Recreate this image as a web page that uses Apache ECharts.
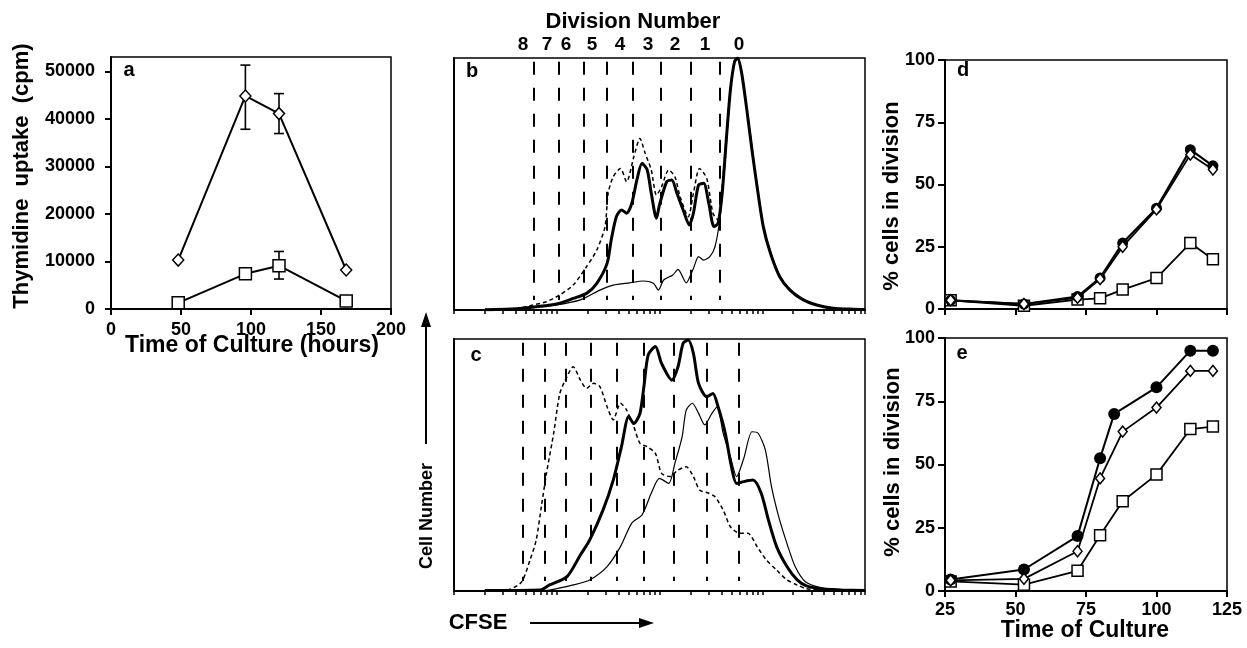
<!DOCTYPE html>
<html><head><meta charset="utf-8">
<script src="https://cdn.jsdelivr.net/npm/echarts@6/dist/echarts.min.js"></script>
<style>html,body{margin:0;padding:0;background:#fff}#c{width:1247px;height:648px}</style>
</head><body><div id="c"></div>
<script>
const FONT = '"Liberation Sans", Arial, Helvetica, sans-serif';

// ---------- panel a : thymidine uptake ----------
const aHours = [48, 96, 120, 168];
const aDiamond = [10300, 44800, 41100, 8200];
const aSquare = [1300, 7400, 9100, 1700];
const aDiamondErr = [[96, 37800, 51300], [120, 36900, 45300]];
const aSquareErr = [[120, 6300, 12100]];
const aYTicks = [0, 10000, 20000, 30000, 40000, 50000];

// ---------- panels b, c : CFSE histograms (x = log10 CFSE, y = % of max) ----------
const bThick = [[0.3,0.1],[0.61,0.5],[0.80,1.3],[1.00,2.4],[1.16,4.6],[1.29,6.6],[1.39,10.6],[1.49,18.5],[1.53,27.8],[1.58,37],[1.63,39.7],[1.68,38.4],[1.73,42.3],[1.78,51.6],[1.83,58.2],[1.88,55.6],[1.92,46.3],[1.97,36.4],[2.00,41.7],[2.07,50.9],[2.12,51.6],[2.17,46.3],[2.23,39.7],[2.29,33.7],[2.33,38.4],[2.38,49.6],[2.43,50.3],[2.48,42.3],[2.53,33.1],[2.57,34.4],[2.61,46.3],[2.65,67.5],[2.69,87.3],[2.73,98.5],[2.76,100],[2.80,93.9],[2.85,79.4],[2.90,63.5],[2.95,48.9],[3.01,33.1],[3.08,22.5],[3.17,13.2],[3.27,7.9],[3.40,4.0],[3.53,2.0],[3.69,0.7],[3.89,0.3],[4,0.2]];
const bDashed = [[0.6,0.3],[0.77,2.0],[0.90,3.3],[1.03,6.0],[1.16,9.9],[1.29,17.2],[1.39,23.8],[1.47,33.1],[1.50,46.3],[1.55,52.9],[1.62,56.2],[1.68,50.9],[1.75,60.8],[1.81,68.1],[1.86,62.2],[1.92,55.6],[1.97,45.6],[2.02,48.9],[2.09,55.6],[2.15,52.9],[2.20,45.0],[2.28,37.0],[2.33,46.3],[2.39,56.2],[2.46,52.2],[2.52,38.4],[2.57,35.7],[2.61,48.9],[2.65,68.5],[2.69,88],[2.73,99],[2.76,100],[2.80,94.5],[2.85,80.5],[2.90,64.5],[2.95,49.5],[3.01,33.5],[3.08,23],[3.17,13.5],[3.27,8.2],[3.40,4.2],[3.53,2.1],[3.69,0.8],[3.89,0.3]];
const bThin = [[0.6,0.2],[0.80,1.1],[1.00,2.0],[1.23,4.0],[1.42,7.9],[1.55,9.9],[1.71,10.8],[1.84,11.5],[1.94,10.6],[1.99,7.9],[2.04,11.9],[2.13,13.9],[2.18,16.1],[2.26,10.8],[2.33,16.5],[2.38,21.2],[2.43,19.8],[2.49,21.2],[2.54,25.1],[2.59,37.0],[2.64,59.5],[2.69,86.5],[2.73,98],[2.76,99.5],[2.80,93.5],[2.85,79],[2.90,63],[2.95,48.5],[3.01,32.8],[3.08,22.2],[3.17,13],[3.27,7.7],[3.40,3.9],[3.53,1.9],[3.69,0.6],[3.89,0.2]];

const cThick = [[0.3,0.2],[0.84,0.4],[0.93,2.4],[1.10,5.7],[1.23,14.3],[1.32,20.2],[1.45,32.1],[1.55,44.0],[1.63,57.3],[1.70,69.2],[1.75,66.5],[1.81,70.5],[1.85,81.7],[1.89,93.7],[1.96,97.0],[2.02,90.3],[2.12,83.7],[2.18,89.0],[2.23,98.3],[2.28,99.6],[2.33,94.3],[2.38,82.4],[2.46,77.1],[2.52,78.4],[2.57,73.1],[2.64,62.6],[2.70,49.3],[2.75,42.7],[2.82,43.4],[2.91,44.0],[2.99,38.8],[3.06,28.2],[3.14,17.6],[3.24,9.7],[3.34,4.4],[3.43,2.0],[3.59,0.7],[3.76,0.4],[4,0.2]];
const cThin = [[0.8,0.1],[0.93,0.4],[1.16,2.4],[1.32,4.4],[1.49,9.7],[1.62,17.6],[1.73,26.9],[1.83,30.2],[1.92,38.8],[2.00,44.7],[2.09,42.7],[2.15,50.7],[2.22,61.2],[2.26,71.8],[2.32,74.5],[2.38,70.5],[2.44,65.9],[2.51,70.5],[2.56,73.1],[2.62,62.6],[2.69,53.3],[2.75,45.4],[2.82,52.6],[2.90,63.2],[2.96,62.6],[3.03,56.0],[3.09,41.4],[3.16,29.5],[3.24,18.9],[3.32,9.7],[3.42,3.7],[3.56,1.5],[3.76,0.7],[3.95,0.3]];
const cDashed = [[0.45,0.2],[0.55,0.7],[0.66,3.7],[0.74,12.3],[0.80,20.2],[0.85,33.5],[0.90,46.7],[0.97,62.6],[1.03,78.4],[1.10,85.1],[1.16,89.0],[1.23,83.7],[1.29,80.4],[1.36,82.4],[1.42,81.1],[1.49,73.1],[1.55,67.9],[1.62,74.5],[1.68,71.8],[1.75,65.2],[1.81,58.6],[1.88,57.3],[1.96,54.6],[2.02,46.7],[2.10,45.4],[2.18,48.0],[2.26,49.3],[2.33,45.4],[2.39,40.1],[2.48,38.8],[2.54,37.4],[2.62,32.1],[2.69,25.5],[2.78,22.9],[2.86,22.9],[2.95,17.6],[3.04,12.3],[3.14,8.3],[3.24,4.4],[3.34,2.4],[3.43,0.9],[3.6,0.3]];

const bBounds = [0.781, 1.015, 1.265, 1.486, 1.735, 2.012, 2.304, 2.589];
const cBounds = [0.669, 0.886, 1.087, 1.333, 1.583, 1.849, 2.134, 2.459, 2.767];
const divLabelPos = [0.672, 0.905, 1.09, 1.343, 1.616, 1.888, 2.151, 2.443, 2.774];
const divLabels = ['8', '7', '6', '5', '4', '3', '2', '1', '0'];

// ---------- panels d, e : % cells in division ----------
const dHours = [27, 53, 72, 80, 88, 100, 112, 120];
const dFilled = [3.5, 2.0, 5.0, 12.5, 26.5, 40.5, 64.0, 57.5];
const dDiamond = [3.5, 2.0, 4.5, 12.0, 25.0, 40.0, 62.0, 56.0];
const dSquare = [3.5, 1.3, 3.8, 4.3, 7.8, 12.4, 26.5, 20.0];
const eFilledHours = [27, 53, 72, 80, 85, 100, 112, 120];
const eFilled = [4.5, 8.5, 21.7, 52.5, 70.0, 80.5, 95.0, 95.0];
const eDiamondHours = [27, 53, 72, 80, 88, 100, 112, 120];
const eDiamond = [4.2, 4.8, 15.7, 44.5, 63.0, 72.5, 87.0, 87.0];
const eSquareHours = [27, 53, 72, 80, 88, 100, 112, 120];
const eSquare = [3.8, 2.5, 8.0, 22.0, 35.5, 46.0, 64.0, 65.0];

// log-decade tick marks for the CFSE axis
const logTicks = [];
for (let d = 0; d < 4; d++) for (let k = 1; k <= 9; k++) logTicks.push(d + Math.log10(k));
logTicks.push(4);

const zip = (xs, ys) => xs.map((x, i) => [x, ys[i]]);
const BLACK = '#000';
const tickLabel = { fontFamily: FONT, fontWeight: 'bold', fontSize: 18, color: BLACK };
const openSym = { color: '#fff', borderColor: BLACK, borderWidth: 1.5 };

function errRender(params, api) {
  const x = api.value(0), lo = api.value(1), hi = api.value(2);
  const p1 = api.coord([x, lo]), p2 = api.coord([x, hi]);
  const w = 5, st = { stroke: BLACK, lineWidth: 1.6 };
  return { type: 'group', children: [
    { type: 'line', shape: { x1: p1[0], y1: p1[1], x2: p2[0], y2: p2[1] }, style: st },
    { type: 'line', shape: { x1: p1[0] - w, y1: p1[1], x2: p1[0] + w, y2: p1[1] }, style: st },
    { type: 'line', shape: { x1: p2[0] - w, y1: p2[1], x2: p2[0] + w, y2: p2[1] }, style: st }
  ]};
}

const frame = { show: true, borderColor: BLACK, borderWidth: 1.5, backgroundColor: 'transparent' };
const axLine = { show: true, lineStyle: { color: BLACK, width: 2 } };

function divMarks(bounds) {
  return {
    silent: true, symbol: ['none', 'none'], animation: false,
    label: { show: false },
    lineStyle: { color: BLACK, width: 2, type: [13, 13] },
    data: bounds.map(v => [{ coord: [v, 98.5] }, { coord: [v, 4] }])
  };
}

function histSeries(data, xi, yi, kind, extra) {
  const ls = kind === 'thick' ? { color: BLACK, width: 3 } :
             kind === 'thin' ? { color: BLACK, width: 1.2 } :
             { color: BLACK, width: 1.5, type: [4, 3] };
  return Object.assign({ type: 'line', xAxisIndex: xi, yAxisIndex: yi, data, showSymbol: false,
    symbol: 'none', smooth: 0.25, lineStyle: ls, z: kind === 'thick' ? 4 : 3 }, extra || {});
}

function txt(text, x, y, size, rot) {
  return { type: 'text', x, y, rotation: rot || 0, silent: true,
    style: { text, font: 'bold ' + size + 'px ' + FONT, fill: BLACK,
      align: 'center', verticalAlign: 'middle', textAlign: 'center', textVerticalAlign: 'middle' } };
}

const option = {
  animation: false,
  backgroundColor: '#fff',
  grid: [
    Object.assign({ left: 111, top: 57, width: 280, height: 252 }, frame),
    Object.assign({ left: 454, top: 58, width: 411, height: 252 }, frame),
    Object.assign({ left: 454, top: 339, width: 411, height: 252 }, frame),
    Object.assign({ left: 945, top: 60, width: 282, height: 249 }, frame),
    Object.assign({ left: 945, top: 338, width: 282, height: 253 }, frame)
  ],
  xAxis: [
    { gridIndex: 0, type: 'value', min: 0, max: 200, interval: 50, axisLine: axLine,
      axisTick: { length: 6, lineStyle: { color: BLACK, width: 2 } },
      axisLabel: Object.assign({ margin: 12 }, tickLabel), splitLine: { show: false } },
    { gridIndex: 1, type: 'value', min: 0, max: 4, axisLine: axLine,
      axisTick: { customValues: logTicks, length: 4, lineStyle: { color: BLACK, width: 1.5 } },
      axisLabel: { show: false }, splitLine: { show: false } },
    { gridIndex: 1, type: 'value', min: 0, max: 4, position: 'top', axisLine: { show: false },
      axisTick: { show: false },
      axisLabel: Object.assign({ customValues: divLabelPos, margin: 4, fontSize: 19,
        formatter: v => { let bi = 0; divLabelPos.forEach((p, i) => { if (Math.abs(p - v) < Math.abs(divLabelPos[bi] - v)) bi = i; }); return divLabels[bi]; } },
        { fontFamily: FONT, fontWeight: 'bold', color: BLACK }),
      splitLine: { show: false } },
    { gridIndex: 2, type: 'value', min: 0, max: 4, axisLine: axLine,
      axisTick: { customValues: logTicks, length: 4, lineStyle: { color: BLACK, width: 1.5 } },
      axisLabel: { show: false }, splitLine: { show: false } },
    { gridIndex: 3, type: 'value', min: 25, max: 125, interval: 25, axisLine: axLine,
      axisTick: { length: 6, lineStyle: { color: BLACK, width: 2 } },
      axisLabel: { show: false }, splitLine: { show: false } },
    { gridIndex: 4, type: 'value', min: 25, max: 125, interval: 25, axisLine: axLine,
      axisTick: { length: 6, lineStyle: { color: BLACK, width: 2 } },
      axisLabel: Object.assign({ margin: 10 }, tickLabel), splitLine: { show: false } }
  ],
  yAxis: [
    { gridIndex: 0, type: 'value', min: 0, max: 53000, axisLine: axLine,
      axisTick: { customValues: aYTicks, length: 6, lineStyle: { color: BLACK, width: 2 } },
      axisLabel: Object.assign({ customValues: aYTicks, margin: 16, formatter: v => String(Math.round(v)) }, tickLabel),
      splitLine: { show: false } },
    { gridIndex: 1, type: 'value', min: 0, max: 100, axisLine: axLine, axisTick: { show: false },
      axisLabel: { show: false }, splitLine: { show: false } },
    { gridIndex: 2, type: 'value', min: 0, max: 100, axisLine: axLine, axisTick: { show: false },
      axisLabel: { show: false }, splitLine: { show: false } },
    { gridIndex: 3, type: 'value', min: 0, max: 100, interval: 25, axisLine: axLine,
      axisTick: { length: 7, lineStyle: { color: BLACK, width: 2 } },
      axisLabel: Object.assign({ margin: 10 }, tickLabel), splitLine: { show: false } },
    { gridIndex: 4, type: 'value', min: 0, max: 100, interval: 25, axisLine: axLine,
      axisTick: { length: 7, lineStyle: { color: BLACK, width: 2 } },
      axisLabel: Object.assign({ margin: 10 }, tickLabel), splitLine: { show: false } }
  ],
  series: [
    // panel a
    { type: 'custom', xAxisIndex: 0, yAxisIndex: 0, data: aDiamondErr.concat(aSquareErr),
      renderItem: errRender, encode: { x: 0, y: [1, 2] }, z: 2, silent: true },
    { type: 'line', xAxisIndex: 0, yAxisIndex: 0, data: zip(aHours, aDiamond), symbol: 'diamond',
      symbolSize: [11, 12], itemStyle: openSym, lineStyle: { color: BLACK, width: 2 }, z: 3 },
    { type: 'line', xAxisIndex: 0, yAxisIndex: 0, data: zip(aHours, aSquare), symbol: 'rect',
      symbolSize: 12, itemStyle: openSym, lineStyle: { color: BLACK, width: 2 }, z: 3 },
    // panel b
    histSeries(bThin, 1, 1, 'thin', { markLine: divMarks(bBounds) }),
    histSeries(bDashed, 1, 1, 'dashed'),
    histSeries(bThick, 1, 1, 'thick'),
    // panel c
    histSeries(cThin, 3, 2, 'thin', { markLine: divMarks(cBounds) }),
    histSeries(cDashed, 3, 2, 'dashed'),
    histSeries(cThick, 3, 2, 'thick'),
    // panel d
    { type: 'line', xAxisIndex: 4, yAxisIndex: 3, data: zip(dHours, dSquare), symbol: 'rect', symbolSize: 11,
      itemStyle: openSym, lineStyle: { color: BLACK, width: 1.8 }, z: 3 },
    { type: 'line', xAxisIndex: 4, yAxisIndex: 3, data: zip(dHours, dFilled), symbol: 'circle', symbolSize: 11,
      itemStyle: { color: BLACK }, lineStyle: { color: BLACK, width: 2.2 }, z: 4 },
    { type: 'line', xAxisIndex: 4, yAxisIndex: 3, data: zip(dHours, dDiamond), symbol: 'diamond', symbolSize: [9, 11],
      itemStyle: openSym, lineStyle: { color: BLACK, width: 1.8 }, z: 5 },
    // panel e
    { type: 'line', xAxisIndex: 5, yAxisIndex: 4, data: zip(eSquareHours, eSquare), symbol: 'rect', symbolSize: 11,
      itemStyle: openSym, lineStyle: { color: BLACK, width: 1.8 }, z: 3 },
    { type: 'line', xAxisIndex: 5, yAxisIndex: 4, data: zip(eFilledHours, eFilled), symbol: 'circle', symbolSize: 12,
      itemStyle: { color: BLACK }, lineStyle: { color: BLACK, width: 2 }, z: 4 },
    { type: 'line', xAxisIndex: 5, yAxisIndex: 4, data: zip(eDiamondHours, eDiamond), symbol: 'diamond', symbolSize: [9, 11],
      itemStyle: openSym, lineStyle: { color: BLACK, width: 1.8 }, z: 5 }
  ],
  graphic: [
    txt('a', 129, 70, 20), txt('b', 472, 71, 20), txt('c', 476, 355, 20),
    txt('d', 963, 70, 20), txt('e', 962, 353, 20),
    txt('Thymidine  uptake  (cpm)', 22, 176, 22, Math.PI / 2),
    txt('Time of Culture (hours)', 252, 346, 23),
    txt('Division Number', 633, 22, 22),
    txt('Cell Number', 427, 516, 18, Math.PI / 2),
    txt('CFSE', 478, 623, 22),
    txt('% cells in division', 892, 196, 22, Math.PI / 2),
    txt('% cells in division', 893, 462, 22, Math.PI / 2),
    txt('Time of Culture', 1085, 631, 23),
    { type: 'line', silent: true, shape: { x1: 426, y1: 444, x2: 426, y2: 326 }, style: { stroke: BLACK, lineWidth: 2 } },
    { type: 'polygon', silent: true, shape: { points: [[426, 312], [421, 327], [431, 327]] }, style: { fill: BLACK } },
    { type: 'line', silent: true, shape: { x1: 530, y1: 623, x2: 641, y2: 623 }, style: { stroke: BLACK, lineWidth: 2 } },
    { type: 'polygon', silent: true, shape: { points: [[654, 623], [639, 618], [639, 628]] }, style: { fill: BLACK } }
  ]
};

echarts.init(document.getElementById('c')).setOption(option);
</script>
</body></html>
